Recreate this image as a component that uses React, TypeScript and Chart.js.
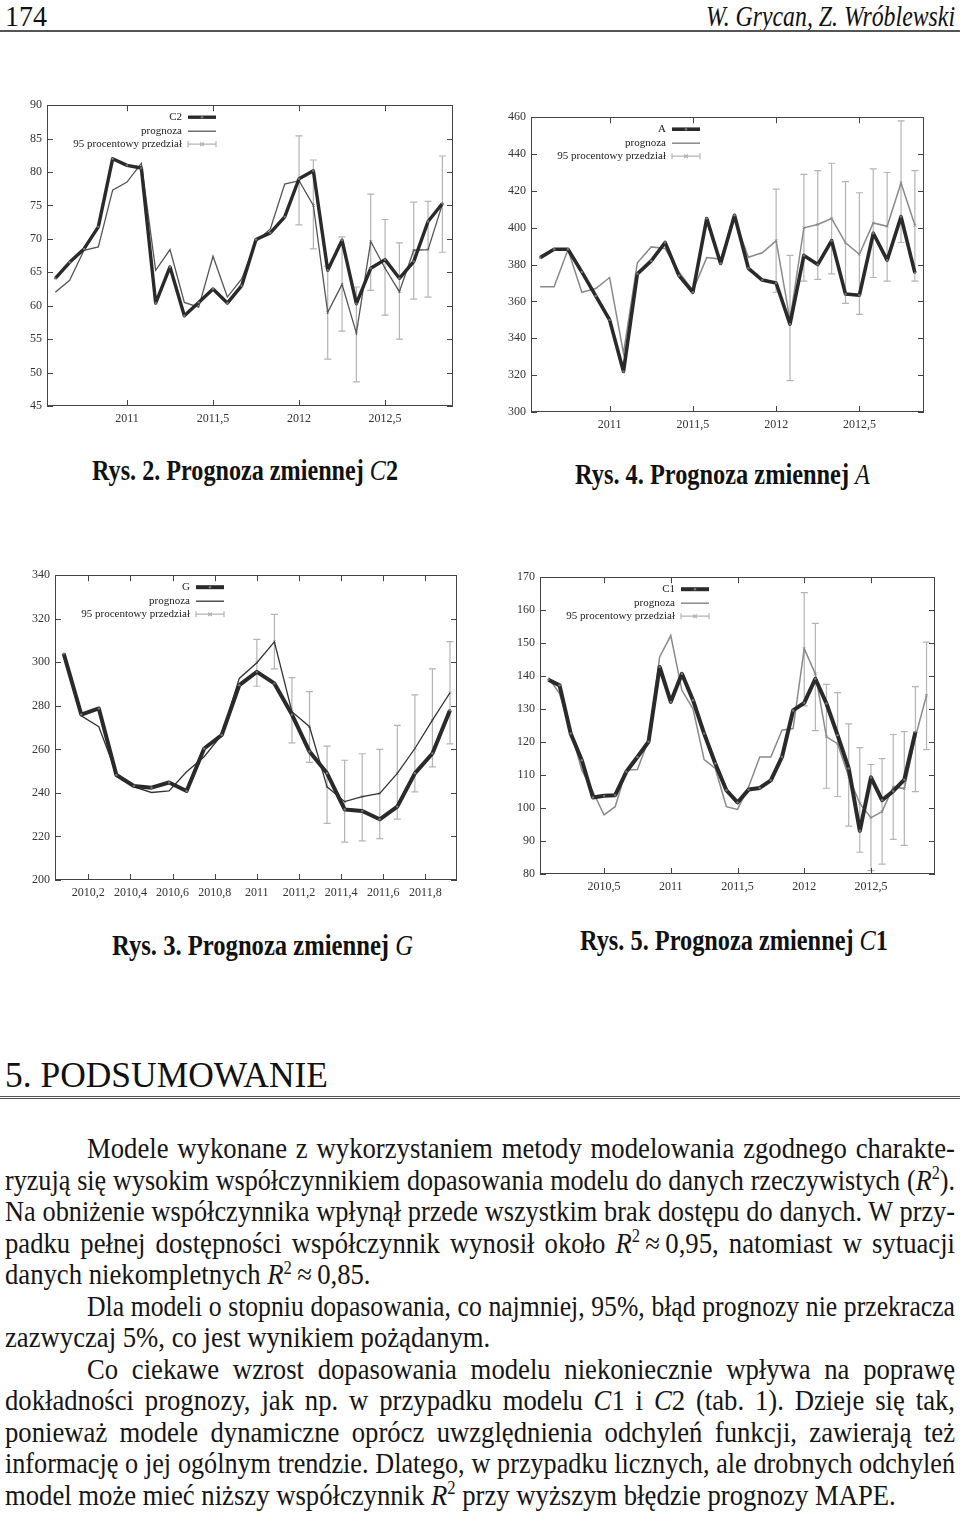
import React, { useEffect, useLayoutEffect, useRef, useState } from 'react';
import { Chart, registerables } from 'chart.js';

Chart.register(...registerables);

const FONT = '"Liberation Serif", "Times New Roman", Times, serif';

// ---------- Rys. 2: C2 ----------
const C2_START = 2010 + 7 / 12;
const C2_ACTUAL = [64.1, 66.5, 68.5, 71.8, 82.0, 81.0, 80.6, 60.4, 65.8, 58.5, 60.5, 62.5, 60.4, 63.0, 69.9, 70.9, 73.3, 79.0, 80.2, 65.3, 69.8, 60.3, 65.6, 66.9, 64.1, 66.6, 72.6, 75.3];
const C2_FORECAST = [62.0, 63.8, 68.3, 68.8, 77.3, 78.5, 81.3, 65.3, 68.4, 60.5, 59.8, 67.4, 61.3, 64.0, 69.6, 71.5, 78.2, 78.7, 75.0, 59.0, 63.2, 55.9, 69.6, 65.6, 62.1, 68.3, 68.4, 75.2];
const C2_BAND_FROM = 17;
const C2_LOW = [72.1, 68.5, 52.0, 56.2, 48.6, 62.3, 58.6, 55.0, 61.0, 61.3, 68.0];
const C2_HIGH = [85.4, 81.8, 65.9, 70.3, 62.8, 76.7, 72.9, 69.4, 75.5, 75.6, 82.4];
const C2_X_TICKS = [2011, 2011.5, 2012, 2012.5];
const C2_X_LABELS = ['2011', '2011,5', '2012', '2012,5'];

// ---------- Rys. 4: A ----------
const A_START = 2010 + 7 / 12;
const A_ACTUAL = [383.8, 388.3, 388.3, 376, 363, 350, 322, 375, 382, 392, 374, 365, 405, 380.6, 406.8, 378, 371.6, 370, 347.7, 385, 380, 393, 364, 363.4, 397, 382.4, 406, 375.5];
const A_FORECAST = [368, 368, 388, 365, 367, 373, 332, 381, 389.6, 388.7, 376, 366, 383.8, 383, 405, 384, 386.4, 393, 350, 400, 401.8, 405, 391.8, 385.6, 402.6, 400.8, 424.3, 401.3];
const A_BAND_FROM = 17;
const A_LOW = [365, 317, 371, 372, 375, 359, 353, 373, 371, 392, 371];
const A_HIGH = [421, 385, 429, 431, 435, 425, 419, 432, 430, 458, 431];
const A_X_TICKS = [2011, 2011.5, 2012, 2012.5];
const A_X_LABELS = ['2011', '2011,5', '2012', '2012,5'];

// ---------- Rys. 3: G ----------
const G_START = 2010 + 1 / 12;
const G_ACTUAL = [304, 276, 278.8, 248.2, 243.2, 242.4, 244.8, 240.9, 260.4, 266.6, 289.5, 295.6, 290.3, 276, 259, 249, 232.4, 231.7, 227.9, 233.7, 249, 258.1, 278];
const G_FORECAST = [304, 275.4, 270.4, 249, 242.8, 240.2, 240.9, 249.7, 256.6, 266.6, 292.6, 299.8, 309.4, 277.3, 270.4, 242.8, 236, 238.3, 239.8, 249, 260.4, 273.4, 286];
const G_BAND_FROM = 11;
const G_LOW = [289, 297, 263, 254, 226, 217.4, 218, 219, 228, 240.5, 252, 262.5];
const G_HIGH = [310.5, 322, 293, 286.5, 261.5, 255, 258, 260, 271, 285, 297, 309.5];
const G_X_TICKS = [2010.2, 2010.4, 2010.6, 2010.8, 2011, 2011.2, 2011.4, 2011.6, 2011.8];
const G_X_LABELS = ['2010,2', '2010,4', '2010,6', '2010,8', '2011', '2011,2', '2011,4', '2011,6', '2011,8'];

// ---------- Rys. 5: C1 ----------
const C1_START = 2010 + 1 / 12;
const C1_ACTUAL = [138.9, 137.2, 122.6, 114.5, 103.2, 103.7, 103.9, 111, 115.5, 120.1, 142.8, 132.2, 140.7, 132.7, 122.6, 113.5, 105.4, 101.7, 105.6, 106.1, 108.4, 115.5, 129.6, 131.9, 139.2, 131.7, 122.1, 112, 93.1, 109.3, 102.4, 105.1, 108.6, 123.1, null];
const C1_FORECAST = [139.5, 134.7, 123.6, 111.5, 105, 97.9, 100.4, 111.5, 111.7, 120.6, 145.8, 152.3, 135.7, 130.1, 114.7, 112, 100.4, 99.6, 106.4, 115.5, 115.5, 123.6, 124.1, 148.3, 140.7, 121.6, 119.5, 109.5, 101.4, 97.1, 98.9, 106.4, 105.9, 121.6, 134.2];
const C1_BAND_FROM = 23;
const C1_LOW = [131, 123.5, 106, 103.5, 94.5, 86.6, 81, 83, 90.5, 88.7, 105, 117.7];
const C1_HIGH = [165.3, 156, 137.5, 135, 125.5, 118.3, 113.2, 115, 122.3, 123.2, 136.8, 150.3];
const C1_X_TICKS = [2010.5, 2011, 2011.5, 2012, 2012.5];
const C1_X_LABELS = ['2010,5', '2011', '2011,5', '2012', '2012,5'];

const FORECAST_LABEL = 'prognoza';
const BAND_LABEL = '95 procentowy przedział';

interface Cfg {
  key: string;
  name: string;
  start: number;
  actual: (number | null)[];
  forecast: number[];
  bandFrom: number;
  low: number[];
  high: number[];
  yMin: number;
  yMax: number;
  yStep: number;
  xMin: number;
  xMax: number;
  xTicks: number[];
  xLabels: string[];
  box: [number, number, number, number];
  fcColor: string;
  fcWidth: number;
  actWidth: number;
}

const CHARTS: Cfg[] = [
  {
    key: 'c2', name: 'C2', start: C2_START, actual: C2_ACTUAL, forecast: C2_FORECAST, bandFrom: C2_BAND_FROM,
    low: C2_LOW, high: C2_HIGH, yMin: 45, yMax: 90, yStep: 5, xMin: 2010.535, xMax: 2012.895,
    xTicks: C2_X_TICKS, xLabels: C2_X_LABELS, box: [47, 105, 453, 406], fcColor: '#555', fcWidth: 1.3, actWidth: 3.4,
  },
  {
    key: 'a', name: 'A', start: A_START, actual: A_ACTUAL, forecast: A_FORECAST, bandFrom: A_BAND_FROM,
    low: A_LOW, high: A_HIGH, yMin: 300, yMax: 460, yStep: 20, xMin: 2010.528, xMax: 2012.888,
    xTicks: A_X_TICKS, xLabels: A_X_LABELS, box: [531, 117, 924, 412], fcColor: '#8a8a8a', fcWidth: 1.5, actWidth: 3.6,
  },
  {
    key: 'g', name: 'G', start: G_START, actual: G_ACTUAL, forecast: G_FORECAST, bandFrom: G_BAND_FROM,
    low: G_LOW, high: G_HIGH, yMin: 200, yMax: 340, yStep: 20, xMin: 2010.042, xMax: 2011.95,
    xTicks: G_X_TICKS, xLabels: G_X_LABELS, box: [55, 575, 457, 880], fcColor: '#333', fcWidth: 1.3, actWidth: 4,
  },
  {
    key: 'c1', name: 'C1', start: C1_START, actual: C1_ACTUAL, forecast: C1_FORECAST, bandFrom: C1_BAND_FROM,
    low: C1_LOW, high: C1_HIGH, yMin: 80, yMax: 170, yStep: 10, xMin: 2010.02, xMax: 2012.98,
    xTicks: C1_X_TICKS, xLabels: C1_X_LABELS, box: [540, 577, 935, 874], fcColor: '#8a8a8a', fcWidth: 1.5, actWidth: 4,
  },
];

const ACT_COLOR = '#2a2a2a';
const BAND_COLOR = '#b4b4b4';
const AXIS_COLOR = '#444';
const PAD_L = 45, PAD_R = 12, PAD_T = 12, PAD_B = 30;

function makeGnuPlugin(cfg: Cfg) {
  return {
    id: 'gnu_' + cfg.key,
    beforeDatasetsDraw(chart: any) {
      const { ctx, scales } = chart;
      const x = scales.x, y = scales.y;
      ctx.save();
      ctx.strokeStyle = BAND_COLOR;
      ctx.lineWidth = 1.2;
      cfg.low.forEach((lo, j) => {
        const i = cfg.bandFrom + j;
        const px = x.getPixelForValue(cfg.start + i / 12);
        const y1 = y.getPixelForValue(lo);
        const y2 = y.getPixelForValue(cfg.high[j]);
        ctx.beginPath();
        ctx.moveTo(px, y1); ctx.lineTo(px, y2);
        ctx.moveTo(px - 3.5, y1); ctx.lineTo(px + 3.5, y1);
        ctx.moveTo(px - 3.5, y2); ctx.lineTo(px + 3.5, y2);
        ctx.stroke();
      });
      ctx.restore();
    },
    afterDatasetsDraw(chart: any) {
      const { ctx, chartArea, scales } = chart;
      const { left, top, right, bottom } = chartArea;
      const x = scales.x, y = scales.y;
      ctx.save();
      // frame
      ctx.strokeStyle = AXIS_COLOR;
      ctx.lineWidth = 1;
      ctx.strokeRect(Math.round(left) + 0.5, Math.round(top) + 0.5, Math.round(right - left) - 1, Math.round(bottom - top) - 1);
      // inward ticks on all sides
      const TL = 6;
      ctx.beginPath();
      y.ticks.forEach((t: any) => {
        const py = Math.round(y.getPixelForValue(t.value)) + 0.5;
        ctx.moveTo(left, py); ctx.lineTo(left + TL, py);
        ctx.moveTo(right, py); ctx.lineTo(right - TL, py);
      });
      x.ticks.forEach((t: any) => {
        const px = Math.round(x.getPixelForValue(t.value)) + 0.5;
        ctx.moveTo(px, bottom); ctx.lineTo(px, bottom - TL);
        ctx.moveTo(px, top); ctx.lineTo(px, top + TL);
      });
      ctx.stroke();
      // legend
      const ds = chart.data.datasets;
      const lx = left + 135, s1 = left + 141, s2 = left + 169, mid = (s1 + s2) / 2;
      const rows = [top + 12, top + 26, top + 39];
      ctx.font = `11px ${FONT}`;
      ctx.fillStyle = '#222';
      ctx.textAlign = 'right';
      ctx.textBaseline = 'middle';
      ctx.fillText(ds[2].label, lx, rows[0]);
      ctx.fillText(ds[0].label, lx, rows[1]);
      ctx.fillText(ds[1].label, lx, rows[2]);
      ctx.lineCap = 'butt';
      ctx.strokeStyle = ACT_COLOR; ctx.lineWidth = cfg.actWidth;
      ctx.beginPath(); ctx.moveTo(s1, rows[0]); ctx.lineTo(s2, rows[0]); ctx.stroke();
      ctx.fillStyle = '#777';
      ctx.beginPath(); ctx.arc(mid, rows[0], 1.3, 0, Math.PI * 2); ctx.fill();
      ctx.strokeStyle = cfg.fcColor; ctx.lineWidth = cfg.fcWidth;
      ctx.beginPath(); ctx.moveTo(s1, rows[1]); ctx.lineTo(s2, rows[1]); ctx.stroke();
      ctx.strokeStyle = BAND_COLOR; ctx.lineWidth = 1.2;
      ctx.beginPath();
      ctx.moveTo(s1, rows[2]); ctx.lineTo(s2, rows[2]);
      ctx.moveTo(s1, rows[2] - 3); ctx.lineTo(s1, rows[2] + 3);
      ctx.moveTo(s2, rows[2] - 3); ctx.lineTo(s2, rows[2] + 3);
      ctx.moveTo(mid - 1.8, rows[2] - 1.8); ctx.lineTo(mid + 1.8, rows[2] + 1.8);
      ctx.moveTo(mid - 1.8, rows[2] + 1.8); ctx.lineTo(mid + 1.8, rows[2] - 1.8);
      ctx.stroke();
      ctx.restore();
    },
  };
}

function GnuChart({ cfg }: { cfg: Cfg }) {
  const ref = useRef<HTMLCanvasElement>(null);
  const [L, T, R, B] = cfg.box;
  const W = R - L + PAD_L + PAD_R;
  const H = B - T + PAD_T + PAD_B;
  useEffect(() => {
    if (!ref.current) return;
    const xAt = (i: number) => cfg.start + i / 12;
    const series = (arr: (number | null)[]) =>
      arr.map((v, i) => (v == null ? null : { x: xAt(i), y: v })).filter(Boolean) as { x: number; y: number }[];
    const band = cfg.low.map((_, j) => ({ x: xAt(cfg.bandFrom + j), y: cfg.forecast[cfg.bandFrom + j] }));
    const tickFont = { family: FONT, size: 12 };
    const chart = new Chart(ref.current, {
      type: 'line',
      data: {
        datasets: [
          {
            label: FORECAST_LABEL, data: series(cfg.forecast), borderColor: cfg.fcColor, borderWidth: cfg.fcWidth,
            pointRadius: 0, tension: 0, order: 3,
          },
          {
            label: BAND_LABEL, data: band, borderColor: BAND_COLOR, borderWidth: 0, showLine: false,
            pointRadius: 1.8, pointStyle: 'crossRot', pointBorderColor: '#999', pointBorderWidth: 1, order: 4,
          },
          {
            label: cfg.name, data: series(cfg.actual), borderColor: ACT_COLOR, borderWidth: cfg.actWidth,
            pointRadius: 1.2, pointBackgroundColor: '#777', pointBorderWidth: 0, tension: 0, order: 1,
            borderJoinStyle: 'round',
          },
        ],
      } as any,
      options: {
        responsive: false,
        animation: false,
        events: [],
        layout: { padding: { top: PAD_T, right: PAD_R, left: 0, bottom: 0 } },
        plugins: { legend: { display: false }, tooltip: { enabled: false } },
        scales: {
          x: {
            type: 'linear', min: cfg.xMin, max: cfg.xMax, bounds: 'data',
            grid: { display: false, drawTicks: false }, border: { display: false },
            ticks: {
              padding: 6, font: tickFont, color: '#333', maxRotation: 0, autoSkip: false,
              callback: (_v: any, i: number) => cfg.xLabels[i],
            },
            afterBuildTicks: (s: any) => { s.ticks = cfg.xTicks.map((v) => ({ value: v })); },
            afterFit: (s: any) => { s.height = PAD_B; },
          },
          y: {
            type: 'linear', min: cfg.yMin, max: cfg.yMax,
            grid: { display: false, drawTicks: false }, border: { display: false },
            ticks: { stepSize: cfg.yStep, padding: 5, font: tickFont, color: '#333', autoSkip: false },
            afterFit: (s: any) => { s.width = PAD_L; },
          },
        },
      } as any,
      plugins: [makeGnuPlugin(cfg) as any],
    });
    return () => chart.destroy();
  }, [cfg]);
  return (
    <canvas
      ref={ref}
      width={W}
      height={H}
      style={{ position: 'absolute', left: L - PAD_L, top: T - PAD_T, width: W, height: H }}
    />
  );
}

type Mode = 'justify' | 'left' | 'fit';

function TextLine(props: {
  x: number; w: number; top: number; size: number; lh: number; mode: Mode; scale?: number;
  style?: React.CSSProperties; children: React.ReactNode;
}) {
  const { x, w, top, size, lh, mode, scale = 0.92, style, children } = props;
  const mref = useRef<HTMLSpanElement>(null);
  const [nat, setNat] = useState(0);
  useLayoutEffect(() => {
    if (mref.current) setNat(mref.current.getBoundingClientRect().width);
  }, []);
  let s = scale;
  if (nat > 0) {
    if (mode === 'fit') s = w / nat;
    else if (mode === 'justify') s = Math.min(scale, w / (nat + 3));
  }
  const base: React.CSSProperties = {
    fontFamily: FONT, fontSize: size, lineHeight: lh + 'px', whiteSpace: 'nowrap', ...style,
  };
  return (
    <>
      <span ref={mref} style={{ ...base, position: 'absolute', left: 0, top: 0, visibility: 'hidden' }}>{children}</span>
      <div
        style={{
          ...base,
          position: 'absolute', left: x, top,
          width: mode === 'left' ? undefined : w / s,
          transform: `scaleX(${s})`, transformOrigin: '0 0',
          textAlign: mode === 'justify' ? 'justify' : 'left',
          textAlignLast: mode === 'justify' ? 'justify' : 'left',
          whiteSpace: mode === 'justify' ? 'normal' : 'nowrap',
        }}
      >
        {children}
      </div>
    </>
  );
}

const Sup = ({ children }: { children: React.ReactNode }) => (
  <span style={{ fontSize: '0.62em', position: 'relative', top: '-0.58em', lineHeight: 0 }}>{children}</span>
);
const It = ({ children }: { children: React.ReactNode }) => <i>{children}</i>;
const CapIt = ({ children }: { children: React.ReactNode }) => <i style={{ fontWeight: 400 }}>{children}</i>;

const BODY_TOP = 1133;
const BODY_LH = 31.5;
const BODY_SIZE = 29;

const BODY_LINES: { x: number; w: number; mode: Mode; content: React.ReactNode }[] = [
  { x: 87, w: 868, mode: 'justify', content: 'Modele wykonane z wykorzystaniem metody modelowania zgodnego charakte-' },
  { x: 5, w: 950, mode: 'justify', content: <>ryzują się wysokim współczynnikiem dopasowania modelu do danych rzeczywistych (<It>R</It><Sup>2</Sup>).</> },
  { x: 5, w: 950, mode: 'justify', content: 'Na obniżenie współczynnika wpłynął przede wszystkim brak dostępu do danych. W przy-' },
  { x: 5, w: 950, mode: 'justify', content: <>padku pełnej dostępności współczynnik wynosił około <It>R</It><Sup>2</Sup>{'\u2009≈\u20090,95,'} natomiast w sytuacji</> },
  { x: 5, w: 367, mode: 'left', content: <>danych niekompletnych <It>R</It><Sup>2</Sup>{'\u2009≈\u20090,85.'}</> },
  { x: 87, w: 868, mode: 'justify', content: 'Dla modeli o stopniu dopasowania, co najmniej, 95%, błąd prognozy nie przekracza' },
  { x: 5, w: 487, mode: 'left', content: 'zazwyczaj 5%, co jest wynikiem pożądanym.' },
  { x: 87, w: 868, mode: 'justify', content: 'Co ciekawe wzrost dopasowania modelu niekoniecznie wpływa na poprawę' },
  { x: 5, w: 950, mode: 'justify', content: <>dokładności prognozy, jak np. w przypadku modelu <It>C</It>1 i <It>C</It>2 (tab. 1). Dzieje się tak,</> },
  { x: 5, w: 950, mode: 'justify', content: 'ponieważ modele dynamiczne oprócz uwzględnienia odchyleń funkcji, zawierają też' },
  { x: 5, w: 950, mode: 'justify', content: 'informację o jej ogólnym trendzie. Dlatego, w przypadku licznych, ale drobnych odchyleń' },
  { x: 5, w: 892, mode: 'left', content: <>model może mieć niższy współczynnik <It>R</It><Sup>2</Sup> przy wyższym błędzie prognozy MAPE.</> },
];

const CAPTIONS: { x: number; w: number; top: number; content: React.ReactNode }[] = [
  { x: 92, w: 306, top: 455, content: <>Rys. 2. Prognoza zmiennej <CapIt>C</CapIt>2</> },
  { x: 575, w: 295, top: 459, content: <>Rys. 4. Prognoza zmiennej <CapIt>A</CapIt></> },
  { x: 112, w: 301, top: 930, content: <>Rys. 3. Prognoza zmiennej <CapIt>G</CapIt></> },
  { x: 580, w: 308, top: 925, content: <>Rys. 5. Prognoza zmiennej <CapIt>C</CapIt>1</> },
];

export default function App() {
  return (
    <div
      style={{
        position: 'absolute', left: 0, top: 0, width: 960, height: 1517, background: '#fff',
        color: '#111', fontFamily: FONT, overflow: 'hidden',
      }}
    >
      <TextLine x={5} w={42} top={-1} size={30} lh={34} mode="fit">174</TextLine>
      <TextLine x={706} w={249} top={-1} size={30} lh={34} mode="fit" style={{ fontStyle: 'italic' }}>
        W. Grycan, Z. Wróblewski
      </TextLine>
      <div style={{ position: 'absolute', left: 0, top: 30, width: 960, height: 2, background: '#555' }} />

      {CHARTS.map((c) => (
        <GnuChart key={c.key} cfg={c} />
      ))}

      {CAPTIONS.map((c, i) => (
        <TextLine key={i} x={c.x} w={c.w} top={c.top} size={29} lh={30} mode="fit" style={{ fontWeight: 700 }}>
          {c.content}
        </TextLine>
      ))}

      <TextLine x={5} w={323} top={1055} size={36} lh={40} mode="fit">5. PODSUMOWANIE</TextLine>
      <div
        style={{
          position: 'absolute', left: 0, top: 1096, width: 960, height: 1,
          borderTop: '1px solid #555', borderBottom: '1px solid #555',
        }}
      />

      {BODY_LINES.map((l, i) => (
        <TextLine
          key={i}
          x={l.x}
          w={l.w}
          top={BODY_TOP + i * BODY_LH}
          size={BODY_SIZE}
          lh={BODY_LH}
          mode={l.mode}
          style={{ color: '#151515' }}
        >
          {l.content}
        </TextLine>
      ))}
    </div>
  );
}
